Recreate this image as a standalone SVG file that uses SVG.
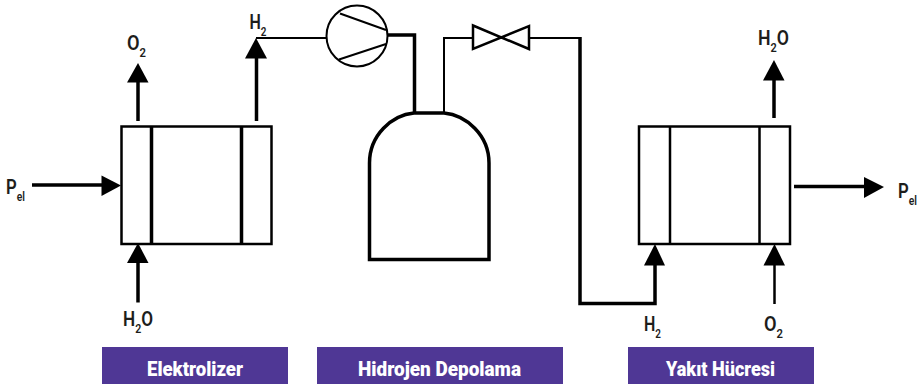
<svg xmlns="http://www.w3.org/2000/svg" width="921" height="384" viewBox="0 0 921 384">
<style>
text{font-family:"Roboto","Liberation Sans",sans-serif;fill:#1d1d1b}
.l{font-size:21px;font-weight:600}
.s{font-size:13px}
.b{fill:#4f3795}
.t{font-size:21px;font-weight:900;fill:#fff}
.box{fill:#fff;stroke:#000;stroke-width:2.500}
.ln{fill:none;stroke:#000;stroke-width:2}
.m{fill:none;stroke:#000;stroke-width:2.500}
.th{fill:none;stroke:#000;stroke-width:3.500}
.h{fill:#000}
</style>
<rect width="921" height="384" fill="#fff"/>
<g id="elektrolizer">
<rect class="box" x="121.500" y="126.500" width="150" height="117.500"/>
<path class="th" d="M151.500 126V244M241.500 126V244"/>
<rect class="b" x="102" y="347" width="186" height="37"/>
<text class="t" x="147" y="375.500" textLength="96" lengthAdjust="spacingAndGlyphs">Elektrolizer</text>
</g>
<g id="kompresor">
<circle class="ln" cx="357" cy="36" r="30.500"/>
<path class="ln" d="M340 13.500L386 30M339 59.500L386 44"/>
</g>
<g id="vana">
<path class="m" d="M473 25.500L529 49V26L473 49Z"/>
</g>
<g id="tank">
<path class="th" d="M369.500 163V259.500H489V163C489 135 466 115 444 113H414C392 115 369.500 135 369.500 163Z"/>
<rect class="b" x="317" y="347" width="246" height="37"/>
<text class="t" x="358" y="375.500" textLength="163" lengthAdjust="spacingAndGlyphs">Hidrojen Depolama</text>
</g>
<g id="yakit-hucresi">
<rect class="box" x="639" y="126.500" width="151" height="117.500"/>
<path class="m" d="M670 126V244M759.500 126V244"/>
<rect class="b" x="628" y="347" width="186" height="37"/>
<text class="t" x="666" y="375.500" textLength="109" lengthAdjust="spacingAndGlyphs">Yakıt Hücresi</text>
</g>
<g id="connectors">
<path class="ln" d="M256 38H326"/>
<path class="th" d="M387 35H414.500V112"/>
<path class="ln" d="M444 112V38H473"/>
<path class="ln" d="M529 38H580"/>
<path class="th" d="M580 37V303.500H655V260"/>
<path class="th" d="M138 121V80"/>
<path class="th" d="M256.500 121V55"/>
<path class="th" d="M32 185H105"/>
<path class="th" d="M138 302.500V260"/>
<path class="th" d="M774 118V78"/>
<path class="m" d="M774.500 304V262"/>
<path class="th" d="M794 186.500H870"/>
<path class="h" d="M138 63L148.500 82.500H127Z"/>
<path class="h" d="M256 38L267 58.500H245Z"/>
<path class="h" d="M121 185.500L101.500 175.500V196Z"/>
<path class="h" d="M138 243L148.500 263H127Z"/>
<path class="h" d="M655 244L665 265.500H644Z"/>
<path class="h" d="M774 60L784.500 80.500H763Z"/>
<path class="h" d="M774.500 244L785 265.500H763.500Z"/>
<path class="h" d="M884 187L864 177V198Z"/>
</g>
<g id="etiketler">
<text class="l" x="127" y="50" textLength="19" lengthAdjust="spacingAndGlyphs">O<tspan class="s" dy="7">2</tspan></text>
<text class="l" x="249.500" y="28.500" textLength="17" lengthAdjust="spacingAndGlyphs">H<tspan class="s" dy="7">2</tspan></text>
<text class="l" x="6" y="194" textLength="19" lengthAdjust="spacingAndGlyphs">P<tspan class="s" dy="7">el</tspan></text>
<text class="l" x="123" y="326" textLength="30" lengthAdjust="spacingAndGlyphs">H<tspan class="s" dy="7">2</tspan><tspan dy="-7">O</tspan></text>
<text class="l" x="758" y="45" textLength="31" lengthAdjust="spacingAndGlyphs">H<tspan class="s" dy="7">2</tspan><tspan dy="-7">O</tspan></text>
<text class="l" x="644" y="331" textLength="17" lengthAdjust="spacingAndGlyphs">H<tspan class="s" dy="7">2</tspan></text>
<text class="l" x="764" y="331" textLength="19" lengthAdjust="spacingAndGlyphs">O<tspan class="s" dy="7">2</tspan></text>
<text class="l" x="898" y="198" textLength="19" lengthAdjust="spacingAndGlyphs">P<tspan class="s" dy="7">el</tspan></text>
</g>
</svg>
